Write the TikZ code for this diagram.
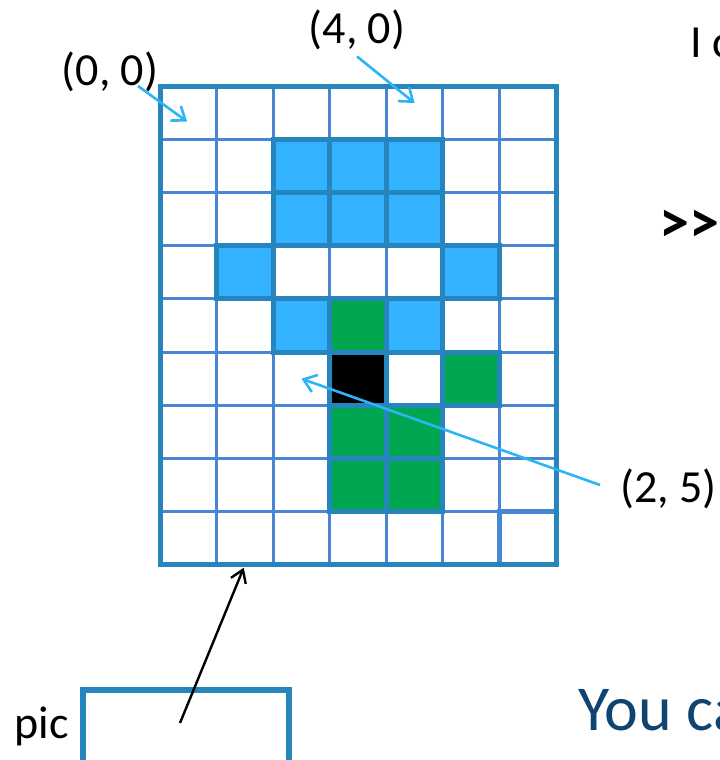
\documentclass[tikz,border=0pt]{standalone}
\usepackage{fontspec}
\setmainfont{Carlito}
\usetikzlibrary{arrows.meta}
\definecolor{gridline}{RGB}{72,134,212}
\definecolor{frameblue}{RGB}{39,133,189}
\definecolor{skyfill}{RGB}{51,178,255}
\definecolor{leafgreen}{RGB}{0,166,80}
\definecolor{pointer}{RGB}{44,180,245}
\definecolor{titleblue}{RGB}{15,68,112}
\tikzset{
cell/.style={
  draw=gridline,
  line width=1.5pt,
  minimum width=28.29pt,
  minimum height=26.61pt,
  inner sep=0pt,
  outer sep=0pt
  },
pix/.style={
  draw=frameblue,
  line width=2.5pt,
  fill=#1
  },
lbl/.style={
  font=\fontsize{23}{28}\selectfont
  },
ptr/.style={
  draw=pointer,
  line width=1.3pt,
  -{Straight Barb[length=6pt,width=9pt]}
  }
}

\begin{document}
\begin{tikzpicture}[x=0.5pt,y=-0.5pt]
\useasboundingbox (0,0) rectangle (719,760);
\clip (0,0) rectangle (719,760);

% grid of cells
\foreach \c in {0,...,6}
  \foreach \r in {0,...,8}
    \node[cell] (c-\c-\r) at ({188.29+\c*56.57},{112.61+\r*53.22}) {};

% coloured pixels
\foreach \c/\r in {2/1,3/1,4/1,2/2,3/2,4/2,1/3,5/3,2/4,4/4}
  \draw[pix=skyfill] (c-\c-\r.north west) rectangle (c-\c-\r.south east);
\foreach \c/\r in {3/4,5/5,3/6,4/6,3/7,4/7}
  \draw[pix=leafgreen] (c-\c-\r.north west) rectangle (c-\c-\r.south east);
\draw[pix=black] (c-3-5.north west) rectangle (c-3-5.south east);

\draw[gridline,line width=2.5pt] (c-6-8.north west) rectangle (c-6-8.south east);
\draw[frameblue,line width=2.5pt] (c-0-0.north west) rectangle (c-6-8.south east);

% labels
\node[lbl,anchor=base] (lbl00) at (110,85) {(0, 0)};
\node[lbl,anchor=base] (lbl40) at (357,43) {(4, 0)};
\node[lbl,anchor=base west,inner sep=0pt] (lbl25) at (620,502) {(2, 5)};
\node[lbl,anchor=base west,inner sep=0pt] (ican) at (690,57) {I c};
\node[font=\fontsize{30}{36}\selectfont\bfseries,anchor=base west,inner sep=0pt] (prompt) at (659,242) {\textgreater{}\textgreater};
\node[font=\fontsize{32}{38}\selectfont,text=titleblue,anchor=base west,inner sep=0pt] (youcan) at (578,730) {You ca};

\node[lbl,anchor=base west,inner sep=0pt] (piclbl) at (14,738) {pic};
\node[draw=frameblue,line width=3pt,outer sep=0pt,minimum width=102.75pt,minimum height=60pt,anchor=north west] (picbox) at (83,690) {};

\coordinate (s00) at (138,86);
\coordinate (s25) at (600,485);
\coordinate (spic) at (180,723);

% pointers
\draw[ptr] (s00) -- ([shift={(-0.6pt,-4.5pt)}]c-0-0.center);
\draw[ptr] (lbl40.south) -- ([yshift=4.8pt]c-4-0.center);
\draw[ptr] (s25) -- (c-2-5.center);
\draw[line width=1.2pt,-{Straight Barb[length=6pt,width=8pt]},shorten >=1.5pt] (spic) -- (c-1-8.south);
\end{tikzpicture}
\end{document}
